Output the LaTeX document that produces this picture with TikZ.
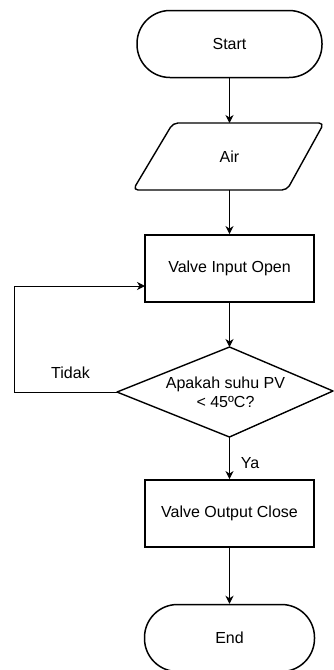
\documentclass[tikz,border=0pt]{standalone}
\usepackage{fontspec}
\setmainfont{Liberation Sans}
\usetikzlibrary{arrows.meta}
\begin{document}
\begin{tikzpicture}[x=1pt,y=-1pt,
  every node/.style={font=\fontsize{16}{19}\selectfont},
  term/.style={draw,line width=1.5pt,rounded corners=33pt,minimum width=#1,minimum height=67pt,inner sep=0pt},
  procbox/.style={draw,line width=1.9pt,minimum width=169pt,minimum height=67pt,inner sep=0pt},
  shapeline/.style={line width=1.4pt,line join=round},
  conn/.style={line width=1pt,-{Stealth[length=8pt,width=8pt,inset=2.5pt]}},
  lbl/.style={inner sep=0pt}]
\useasboundingbox (0,0) rectangle (333,670);
% Start
\node[term=185pt] (start) at (229.5,44) {Start};
% Air (parallelogram)
\coordinate (airtop) at (229.5,123);
\coordinate (airbot) at (229.5,190);
\draw[shapeline,rounded corners=5pt] (173,123) -- (324,123) -- (287,190) -- (133,190) -- cycle;
\node[lbl] (air) at (229.5,157) {Air};
% Valve Input Open
\node[procbox] (vin) at (229.5,268.5) {Valve Input Open};
\coordinate (fbin) at (145,286);
% Decision
\coordinate (dtop) at (229.5,347);
\coordinate (dright) at (333,391);
\coordinate (dbot) at (229.5,437);
\coordinate (dleft) at (117,392);
\draw[shapeline] (dtop) -- (dright) -- (dbot) -- (dleft) -- cycle;
\node[lbl,align=center] (dec) at (225.5,392) {Apakah suhu PV\\< 45ºC?};
% Valve Output Close
\node[procbox] (vout) at (229.5,513.5) {Valve Output Close};
% End
\node[term=170pt] (end) at (229.5,638) {End};
% Connectors
\draw[conn] (start.south) -- (airtop);
\draw[conn] (airbot) -- (vin.north);
\draw[conn] (vin.south) -- (dtop);
\draw[conn] (dbot) -- (vout.north);
\draw[conn] (vout.south) -- (end.north);
\draw[conn] (dleft) -- (14,392) |- (fbin);
% Labels
\node[lbl] (tidak) at (70.5,373) {Tidak};
\node[lbl] (ya) at (250,463) {Ya};
\end{tikzpicture}
\end{document}
